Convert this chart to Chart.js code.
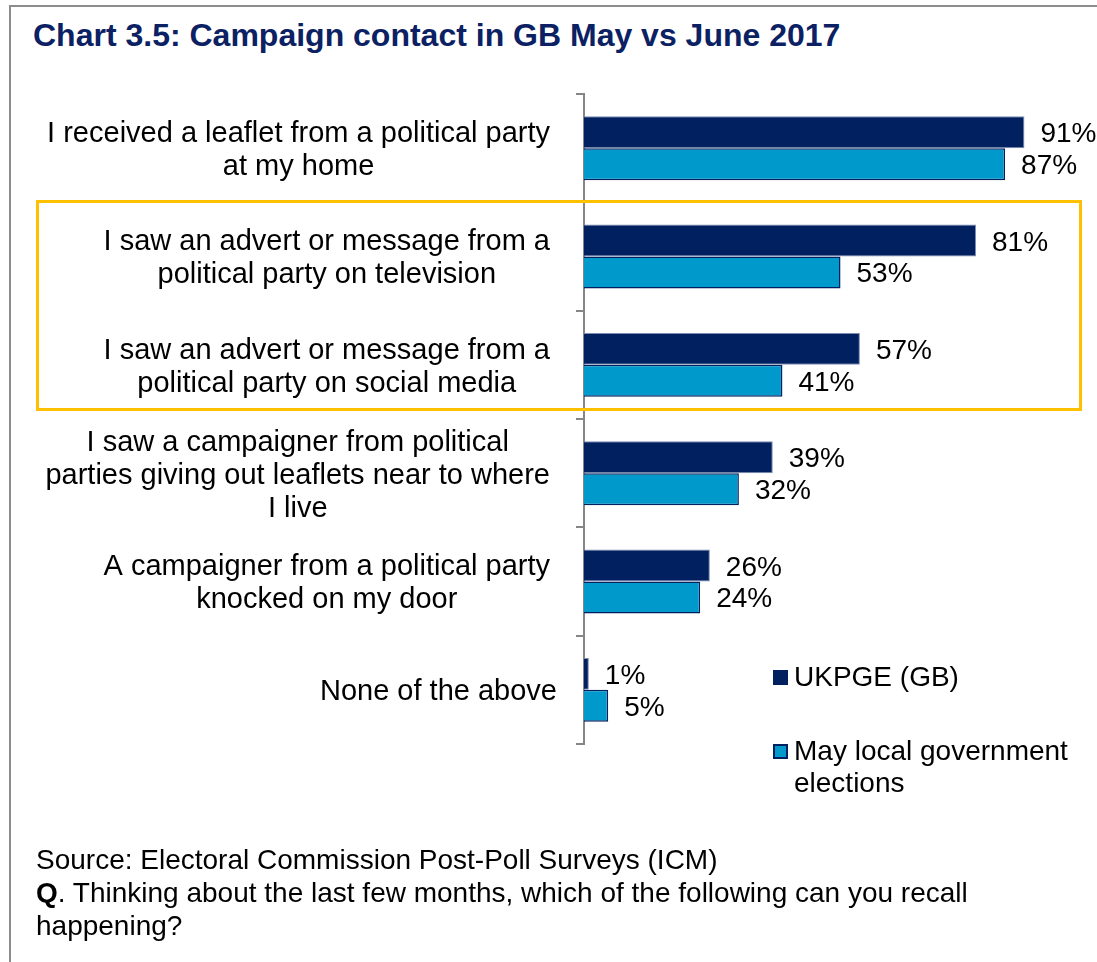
<!DOCTYPE html>
<html>
<head>
<meta charset="utf-8">
<title>Campaign contact in GB</title>
<script src="https://cdn.jsdelivr.net/npm/chart.js@4.4.1/dist/chart.umd.min.js"></script>
<style>
  body { margin: 0; background: #fff; overflow: hidden; font-family: "Liberation Sans", Arial, sans-serif; }
  .frame { position: absolute; left: 9px; top: 5px; width: 1200px; height: 1100px; border: 2px solid #8c8c8c; }
  h1 { position: absolute; left: 33px; top: 19px; margin: 0; font-size: 32px; line-height: 1; font-weight: bold; color: #0b2163; white-space: nowrap; }
  .wrap { position: absolute; left: 0; top: 0; width: 1097px; height: 962px; }
  .highlight { position: absolute; left: 36px; top: 200px; width: 1046px; height: 211px; border: 3.5px solid #ffc000; box-sizing: border-box; pointer-events: none; }
  .source { position: absolute; left: 36px; top: 843px; font-size: 28px; line-height: 33px; color: #000; white-space: nowrap; }
</style>
</head>
<body>
<div class="frame"></div>
<h1>Chart 3.5: Campaign contact in GB May vs June 2017</h1>
<div class="wrap"><canvas id="contactChart"></canvas></div>
<div class="highlight"></div>
<div class="source">Source: Electoral Commission Post-Poll Surveys (ICM)<br><b>Q</b>. Thinking about the last few months, which of the following can you recall<br>happening?</div>

<script>
// ===== Data =====
const categories = [
  ['I received a leaflet from a political party', 'at my home'],
  ['I saw an advert or message from a', 'political party on television'],
  ['I saw an advert or message from a', 'political party on social media'],
  ['I saw a campaigner from political', 'parties giving out leaflets near to where', 'I live'],
  ['A campaigner from a political party', 'knocked on my door'],
  ['None of the above']
];
const ukpge = [91, 81, 57, 39, 26, 1];
const mayLocal = [87, 53, 41, 32, 24, 5];
const seriesNames = [['UKPGE (GB)'], ['May local government', 'elections']];

const NAVY = '#002060';
const CYAN = '#0099cc';
const FONT = '"Liberation Sans", Arial, sans-serif';

// ===== Category labels: right-aligned blocks, lines centred inside =====
const categoryLabels = {
  id: 'categoryLabels',
  afterDraw(chart) {
    const { ctx, scales: { y }, chartArea } = chart;
    const size = 29, lineH = 33;
    ctx.save();
    ctx.font = size + 'px ' + FONT;
    ctx.fillStyle = '#000';
    ctx.textAlign = 'center';
    ctx.textBaseline = 'alphabetic';
    chart.data.labels.forEach((lines, i) => {
      const mid = y.getPixelForValue(i);
      // wrapped labels sit a little further from the axis than single lines
      const right = chartArea.left - (lines.length > 1 ? 34 : 27);
      const w = Math.max(...lines.map(l => ctx.measureText(l).width));
      const cx = right - w / 2;
      lines.forEach((line, k) => {
        const base = mid - (lines.length - 1) * lineH / 2 + k * lineH + size * 0.36;
        ctx.fillText(line, cx, base);
      });
    });
    ctx.restore();
  }
};

// ===== Value labels at the end of each bar =====
const valueLabels = {
  id: 'valueLabels',
  afterDatasetsDraw(chart) {
    const { ctx } = chart;
    ctx.save();
    ctx.font = '28px ' + FONT;
    ctx.fillStyle = '#000';
    ctx.textAlign = 'left';
    ctx.textBaseline = 'alphabetic';
    chart.data.datasets.forEach((ds, di) => {
      chart.getDatasetMeta(di).data.forEach((bar, i) => {
        ctx.fillText(ds.data[i] + '%', bar.x + 16, bar.y + 10);
      });
    });
    ctx.restore();
  }
};

// ===== Legend, lower right =====
const sideLegend = {
  id: 'sideLegend',
  afterDraw(chart) {
    const { ctx } = chart;
    const boxX = 773, textX = 794;
    const rows = [670, 744];
    ctx.save();
    ctx.font = '28px ' + FONT;
    ctx.textBaseline = 'alphabetic';
    chart.data.datasets.forEach((ds, di) => {
      const top = rows[di];
      ctx.fillStyle = ds.backgroundColor;
      ctx.fillRect(boxX, top, 15, 15);
      if (di === 1) {
        ctx.strokeStyle = NAVY;
        ctx.lineWidth = 2;
        ctx.strokeRect(boxX + 1, top + 1, 13, 13);
      }
      ctx.fillStyle = '#000';
      seriesNames[di].forEach((line, k) => {
        ctx.fillText(line, textX, top + 16 + k * 32);
      });
    });
    ctx.restore();
  }
};

new Chart(document.getElementById('contactChart'), {
  type: 'bar',
  data: {
    labels: categories,
    datasets: [
      {
        label: seriesNames[0].join(' '),
        data: ukpge,
        backgroundColor: NAVY,
        borderColor: '#7d8db3',
        borderWidth: 1
      },
      {
        label: seriesNames[1].join(' '),
        data: mayLocal,
        backgroundColor: CYAN,
        borderColor: NAVY,
        borderWidth: 1.5
      }
    ]
  },
  options: {
    indexAxis: 'y',
    responsive: true,
    maintainAspectRatio: false,
    animation: false,
    events: [],
    layout: { padding: { left: 576, top: 94, right: 29, bottom: 218 } },
    datasets: { bar: { categoryPercentage: 0.59, barPercentage: 1 } },
    plugins: {
      legend: { display: false },
      tooltip: { enabled: false }
    },
    scales: {
      x: { display: false, min: 0, max: 100 },
      y: {
        ticks: { display: false },
        grid: { offset: true, drawOnChartArea: false, drawTicks: true, tickLength: 8, color: '#868686', lineWidth: 2 },
        border: { display: true, color: '#868686', width: 2 }
      }
    }
  },
  plugins: [categoryLabels, valueLabels, sideLegend]
});
</script>
</body>
</html>
